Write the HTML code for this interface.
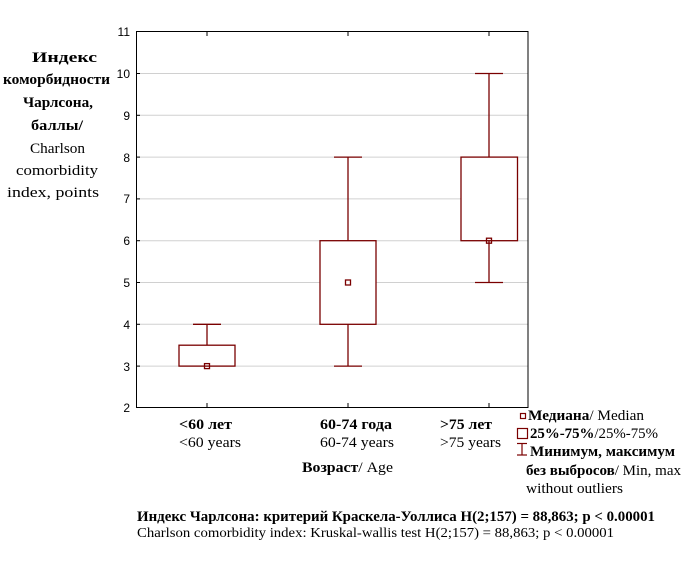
<!DOCTYPE html>
<html><head><meta charset="utf-8"><style>
body{margin:0;background:#fff;}
svg{display:block;}
.s{font-family:"Liberation Serif",serif;font-size:15px;fill:#000;}
.t{font-family:"Liberation Sans",sans-serif;font-size:12px;fill:#000;}
</style></head><body>
<svg width="691" height="564" viewBox="0 0 691 564">
<g stroke="#d0d0d0" stroke-width="1">
<line x1="136" x2="528" y1="73.5" y2="73.5"/>
<line x1="136" x2="528" y1="115.3" y2="115.3"/>
<line x1="136" x2="528" y1="157.1" y2="157.1"/>
<line x1="136" x2="528" y1="198.9" y2="198.9"/>
<line x1="136" x2="528" y1="240.7" y2="240.7"/>
<line x1="136" x2="528" y1="282.5" y2="282.5"/>
<line x1="136" x2="528" y1="324.3" y2="324.3"/>
<line x1="136" x2="528" y1="366.1" y2="366.1"/>
</g>
<rect x="136.5" y="31.5" width="391.5" height="376" fill="none" stroke="#000" stroke-width="1"/>
<g stroke="#000">
<line x1="207" x2="207" y1="32" y2="36"/><line x1="348" x2="348" y1="32" y2="36"/><line x1="489" x2="489" y1="32" y2="36"/>
<line x1="207" x2="207" y1="407" y2="403"/><line x1="348" x2="348" y1="407" y2="403"/><line x1="489" x2="489" y1="407" y2="403"/>
<line x1="136" x2="140" y1="73.5" y2="73.5"/><line x1="136" x2="140" y1="115.3" y2="115.3"/><line x1="136" x2="140" y1="157.1" y2="157.1"/><line x1="136" x2="140" y1="198.9" y2="198.9"/><line x1="136" x2="140" y1="240.7" y2="240.7"/><line x1="136" x2="140" y1="282.5" y2="282.5"/><line x1="136" x2="140" y1="324.3" y2="324.3"/><line x1="136" x2="140" y1="366.1" y2="366.1"/>
</g>
<g class="t" text-anchor="end">
<text x="130" y="36">11</text><text x="130" y="78">10</text><text x="130" y="120">9</text><text x="130" y="162">8</text><text x="130" y="203">7</text><text x="130" y="245">6</text><text x="130" y="287">5</text><text x="130" y="329">4</text><text x="130" y="371">3</text><text x="130" y="412">2</text>
</g>
<g stroke="#7a0000" stroke-width="1.3" fill="none">
<line x1="207" x2="207" y1="324.3" y2="345.2"/>
<line x1="193" x2="221" y1="324.3" y2="324.3"/>
<rect x="179" y="345.2" width="56" height="20.9" fill="#fff"/>
<rect x="204.5" y="363.6" width="5" height="5"/>
<line x1="348" x2="348" y1="157.1" y2="240.7"/>
<line x1="348" x2="348" y1="324.3" y2="366.1"/>
<line x1="334" x2="362" y1="157.1" y2="157.1"/>
<line x1="334" x2="362" y1="366.1" y2="366.1"/>
<rect x="320" y="240.7" width="56" height="83.6" fill="#fff"/>
<rect x="345.5" y="280" width="5" height="5"/>
<line x1="489" x2="489" y1="73.5" y2="157.1"/>
<line x1="489" x2="489" y1="240.7" y2="282.5"/>
<line x1="475" x2="503" y1="73.5" y2="73.5"/>
<line x1="475" x2="503" y1="282.5" y2="282.5"/>
<rect x="461" y="157.1" width="56.5" height="83.6" fill="#fff"/>
<rect x="486.5" y="238.2" width="5" height="5"/>
</g>
<g class="s" lengthAdjust="spacingAndGlyphs">
<text x="32" y="62" font-weight="bold" textLength="65" lengthAdjust="spacingAndGlyphs">Индекс</text>
<text x="3" y="84" font-weight="bold" textLength="107" lengthAdjust="spacingAndGlyphs">коморбидности</text>
<text x="23" y="107" font-weight="bold" textLength="70" lengthAdjust="spacingAndGlyphs">Чарлсона,</text>
<text x="31" y="130" font-weight="bold" textLength="52" lengthAdjust="spacingAndGlyphs">баллы/</text>
<text x="30" y="153" textLength="55" lengthAdjust="spacingAndGlyphs">Charlson</text>
<text x="16" y="175" textLength="82" lengthAdjust="spacingAndGlyphs">comorbidity</text>
<text x="7" y="197" textLength="92" lengthAdjust="spacingAndGlyphs">index, points</text>

<text x="179" y="429" font-weight="bold" textLength="53" lengthAdjust="spacingAndGlyphs">&lt;60 лет</text>
<text x="179" y="447" textLength="62" lengthAdjust="spacingAndGlyphs">&lt;60 years</text>
<text x="320" y="429" font-weight="bold" textLength="72" lengthAdjust="spacingAndGlyphs">60-74 года</text>
<text x="320" y="447" textLength="74" lengthAdjust="spacingAndGlyphs">60-74 years</text>
<text x="440" y="429" font-weight="bold" textLength="52" lengthAdjust="spacingAndGlyphs">&gt;75 лет</text>
<text x="440" y="447" textLength="61" lengthAdjust="spacingAndGlyphs">&gt;75 years</text>
<text x="302" y="472" textLength="91" lengthAdjust="spacingAndGlyphs"><tspan font-weight="bold">Возраст</tspan>/ Age</text>

<text x="528" y="420" textLength="116" lengthAdjust="spacingAndGlyphs"><tspan font-weight="bold">Медиана</tspan>/ Median</text>
<text x="530" y="438" textLength="128" lengthAdjust="spacingAndGlyphs"><tspan font-weight="bold">25%-75%</tspan>/25%-75%</text>
<text x="530" y="456" font-weight="bold" textLength="145" lengthAdjust="spacingAndGlyphs">Минимум, максимум</text>
<text x="526" y="475" textLength="155" lengthAdjust="spacingAndGlyphs"><tspan font-weight="bold">без выбросов</tspan>/ Min, max</text>
<text x="526" y="493" textLength="97" lengthAdjust="spacingAndGlyphs">without outliers</text>

<text x="137" y="521" font-weight="bold" textLength="518" lengthAdjust="spacingAndGlyphs">Индекс Чарлсона: критерий Краскела-Уоллиса H(2;157) = 88,863; p &lt; 0.00001</text>
<text x="137" y="537" font-size="14" textLength="477" lengthAdjust="spacingAndGlyphs">Charlson comorbidity index: Kruskal-wallis test H(2;157) = 88,863; p &lt; 0.00001</text>
</g>
<g stroke="#7a0000" stroke-width="1.2" fill="none">
<rect x="520.5" y="413.5" width="5" height="5"/>
<rect x="517.5" y="428.5" width="10" height="10"/>
<line x1="517" x2="527" y1="443.5" y2="443.5"/>
<line x1="522" x2="522" y1="443.5" y2="455"/>
<line x1="517" x2="527" y1="455" y2="455"/>
</g>
</svg>
</body></html>
